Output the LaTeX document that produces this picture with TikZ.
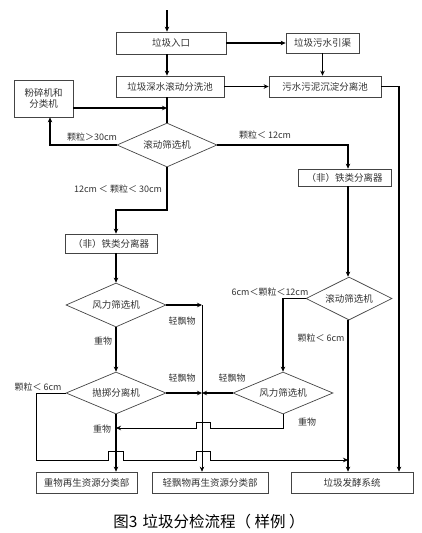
\documentclass[tikz,border=0pt]{standalone}
\usepackage{fontspec}
\setmainfont{Noto Sans CJK SC}
\usetikzlibrary{shapes.geometric,arrows.meta}
\definecolor{txt}{HTML}{333333}
\definecolor{bord}{HTML}{444444}
\begin{document}
\begin{tikzpicture}[x=1pt,y=-1pt,
  box/.style={draw=bord,line width=0.7pt,inner sep=0pt,text=txt,font=\fontsize{9.5}{11}\selectfont,align=center},
  dia/.style={draw=bord,line width=0.7pt,shape=diamond,inner sep=0pt,aspect=2.3,text=txt,font=\fontsize{9.5}{11}\selectfont},
  lab/.style={text=txt,font=\fontsize{9}{10}\selectfont,inner sep=0pt},
  thk/.style={line width=1.2pt},
  thn/.style={line width=0.6pt},
  arr/.style={-{Stealth[length=5pt,width=4.5pt]}},
]
\useasboundingbox (0,0) rectangle (422,533);
% columns
\coordinate (c167) at (167,0);
\coordinate (c50) at (50,0);
\coordinate (c116) at (116,0);
\coordinate (c202) at (202,0);
\coordinate (c348) at (348,0);
\coordinate (c399) at (399,0);
\coordinate (start) at (167,10);
% boxes
\node[box,minimum width=110pt,minimum height=22pt] (in) at (171,43) {垃圾入口};
\node[box,minimum width=73pt,minimum height=20pt] (ditch) at (322.5,43) {垃圾污水引渠};
\node[box,minimum width=108pt,minimum height=21pt] (wash) at (170,86.5) {垃圾深水滚动分洗池};
\node[box,minimum width=112pt,minimum height=21pt] (sed) at (325,86.5) {污水污泥沉淀分离池};
\node[box,minimum width=59pt,minimum height=37pt] (crush) at (43.5,98.5) {粉碎机和\\分类机};
\node[box,minimum width=93pt,minimum height=17pt] (ironR) at (344.5,177.5) {（非）铁类分离器};
\node[box,minimum width=92pt,minimum height=19pt] (ironL) at (111,243.5) {（非）铁类分离器};
\node[box,minimum width=101pt,minimum height=21pt] (heavy) at (86.5,482.5) {重物再生资源分类部};
\node[box,minimum width=116pt,minimum height=21pt] (light) at (210,482.5) {轻飘物再生资源分类部};
\node[box,minimum width=122pt,minimum height=21pt] (ferm) at (352,482.5) {垃圾发酵系统};
% diamonds
\node[dia,minimum width=100pt,minimum height=44pt] (roll1) at (167,145) {滚动筛选机};
\node[dia,minimum width=100pt,minimum height=44pt] (wind1) at (116,305) {风力筛选机};
\node[dia,minimum width=100pt,minimum height=42pt] (throw) at (116,393) {抛掷分离机};
\node[dia,minimum width=100pt,minimum height=42pt] (wind2) at (283,393) {风力筛选机};
\node[dia,minimum width=86pt,minimum height=43pt] (roll2) at (349,298.5) {滚动筛选机};
% junctions
\coordinate (j1) at (167,108);
\coordinate (jm) at (202,393);
\coordinate (jw) at (202,305);
% top flow
\draw[thk,arr] (start) -- (in.north -| c167);
\draw[thk,arr] (in.east) -- (ditch.west);
\draw[thk,arr] (ditch.south) -- (sed.north -| ditch.south);
\draw[thk,arr] (in.south -| c167) -- (wash.north -| c167);
\draw[thk,arr] (wash.east) -- (sed.west);
\draw[thk,arr] (sed.east) -- (sed.east -| c399) -- (ferm.north -| c399);
\draw[thk] (wash.south -| c167) -- (roll1.north);
\draw[thk,arr] (crush.east |- j1) -- (j1);
\draw[thk,arr] (roll1.west) -- (roll1.west -| c50) -- (crush.south -| c50);
\draw[thk,arr] (roll1.east) -- (roll1.east -| c348) -- (ironR.north -| c348);
\draw[thk,arr] (roll1.south) -- (167,210) -- (116,210) -- (ironL.north -| c116);
\draw[thk,arr] (ironL.south -| c116) -- (wind1.north);
\draw[thk,arr] (wind1.east) -- (jw);
\draw[thn,arr] (jw) -- (light.north -| c202);
\draw[thk,arr] (wind1.south) -- (throw.north);
\draw[thk,arr] (throw.east) -- (jm);
\draw[thk,arr] (wind2.west) -- (jm);
\draw[thk,arr] (throw.south) -- (heavy.north -| c116);
\draw[thk,arr] (ironR.south -| c348) -- (roll2.north -| c348);
\draw[thk,arr] (roll2.west) -- (roll2.west -| wind2.north) -- (wind2.north);
\draw[thk,arr] (roll2.south -| c348) -- (ferm.north -| c348);
% hop paths
\draw[thn,arr] (throw.west) -- (36,393) -- (36,460) -- (108,460) -- (108,451) -- (123,451) -- (123,460) -- (196,460) -- (196,451) -- (210,451) -- (210,460) -- (348,460);
\draw[thn,arr] (wind2.south) -- (283,428) -- (210,428) -- (210,422) -- (196,422) -- (196,428) -- (116,428);
% labels
\node[lab] (l1) at (92,137) {颗粒＞30cm};
\node[lab] (l2) at (265,135) {颗粒＜ 12cm};
\node[lab] (l3) at (118,189) {12cm ＜ 颗粒＜ 30cm};
\node[lab] (l4) at (182,321) {轻飘物};
\node[lab] (l5) at (103,341) {重物};
\node[lab] (l6) at (182,378) {轻飘物};
\node[lab] (l7) at (232,378) {轻飘物};
\node[lab] (l8) at (270,292) {6cm＜颗粒＜12cm};
\node[lab] (l9) at (321,338) {颗粒＜ 6cm};
\node[lab] (l10) at (38,387) {颗粒＜ 6cm};
\node[lab] (l11) at (102,429) {重物};
\node[lab] (l12) at (307,422) {重物};
\node[text=black,font=\fontsize{15.5}{17}\selectfont,inner sep=0pt] (cap) at (209,522) {图3\hspace{5pt}垃圾分检流程（ 样例 ）};
\end{tikzpicture}
\end{document}
